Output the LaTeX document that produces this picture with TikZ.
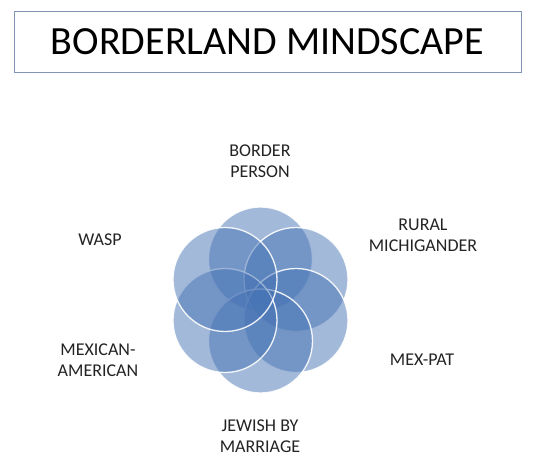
\documentclass[tikz,border=0pt]{standalone}
\usepackage{fontspec}
\usetikzlibrary{calc}
\setmainfont{Carlito}
\definecolor{circfill}{RGB}{70,115,180}
\definecolor{boxline}{RGB}{130,150,180}
\definecolor{txt}{RGB}{35,35,35}
\begin{document}
\begin{tikzpicture}[x=1pt,y=-1pt,
  petal/.style={fill=circfill,fill opacity=0.5,draw=white,draw opacity=0.9,line width=1.3pt},
  lbl/.style={text=txt,font=\fontsize{18}{21}\selectfont,align=center,inner sep=0pt},
  titlebox/.style={draw=boxline,line width=0.9pt,minimum width=507pt,minimum height=61pt,inner sep=0pt,font=\fontsize{40}{44}\selectfont,text=black}]
\useasboundingbox (0,0) rectangle (550,457);
\node[titlebox] (title) at (267.5,41.5) {BORDERLAND MINDSCAPE};
\coordinate (c) at (260.5,300);
\foreach \a in {90,30,-30,-90,-150,150}{
  \path[petal] ($(c)+({41*cos(\a)},{-41*sin(\a)})$) circle[radius=52];
}
\node[lbl] (l1) at (260,161) {BORDER\\PERSON};
\node[lbl] (l2) at (100,240) {WASP};
\node[lbl] (l3) at (423,235) {RURAL\\MICHIGANDER};
\node[lbl] (l4) at (98,360) {MEXICAN-\\AMERICAN};
\node[lbl] (l5) at (422,360) {MEX-PAT};
\node[lbl] (l6) at (260,436) {JEWISH BY\\MARRIAGE};
\end{tikzpicture}
\end{document}
